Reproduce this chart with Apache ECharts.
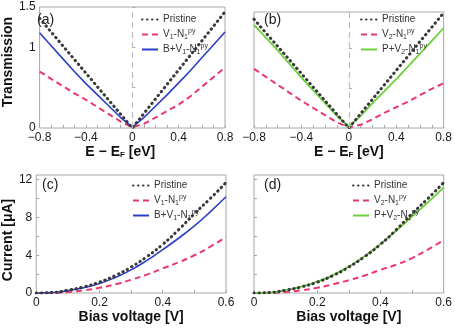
<!DOCTYPE html>
<html>
<head>
<meta charset="utf-8">
<script src="https://cdn.jsdelivr.net/npm/echarts@6/dist/echarts.min.js"></script>
<style>
  html, body { margin: 0; padding: 0; background: #fff; }
  #chart { width: 455px; height: 328px; }
</style>
</head>
<body>
<div id="chart"></div>
<script>
// (a),(b): transmission vs E - EF
var energy = [-0.8, -0.7, -0.6, -0.5, -0.4, -0.3, -0.2, -0.1, 0, 0.1, 0.2, 0.3, 0.4, 0.5, 0.6, 0.7, 0.8];
var tPristine = [1.36, 1.19, 1.02, 0.85, 0.68, 0.51, 0.34, 0.17, 0.0, 0.18, 0.36, 0.54, 0.72, 0.90, 1.08, 1.26, 1.44];
var tV1 = [0.70, 0.61, 0.52, 0.43, 0.35, 0.26, 0.17, 0.08, 0.01, 0.05, 0.13, 0.21, 0.29, 0.39, 0.51, 0.63, 0.75];
var tBV1 = [1.18, 1.02, 0.86, 0.70, 0.55, 0.41, 0.27, 0.13, 0.01, 0.13, 0.27, 0.41, 0.56, 0.71, 0.87, 1.03, 1.19];
var tV2 = [0.74, 0.64, 0.54, 0.44, 0.34, 0.25, 0.16, 0.07, 0.01, 0.04, 0.11, 0.19, 0.26, 0.33, 0.41, 0.49, 0.56];
var tPV2 = [1.29, 1.13, 0.97, 0.80, 0.63, 0.47, 0.31, 0.15, 0.02, 0.15, 0.31, 0.46, 0.61, 0.77, 0.93, 1.09, 1.25];

// (c),(d): current vs bias voltage
var bias = [0, 0.05, 0.1, 0.15, 0.2, 0.25, 0.3, 0.35, 0.4, 0.45, 0.5, 0.55, 0.6];
var iPristine = [0, 0.05, 0.3, 0.65, 1.15, 1.85, 2.75, 3.85, 5.15, 6.7, 8.4, 10.0, 11.7];
var iV1 = [0, 0.02, 0.1, 0.28, 0.55, 0.92, 1.4, 1.95, 2.6, 3.25, 4.0, 4.9, 5.95];
var iBV1 = [0, 0.04, 0.25, 0.55, 1.0, 1.65, 2.45, 3.45, 4.6, 5.8, 7.1, 8.6, 10.2];
var iV2 = [0, 0.02, 0.1, 0.28, 0.55, 0.92, 1.35, 1.85, 2.45, 3.0, 3.7, 4.6, 5.6];
var iPV2 = [0, 0.05, 0.3, 0.68, 1.2, 1.9, 2.8, 3.9, 5.2, 6.6, 8.1, 9.6, 11.2];

// tick labels / tick marks
var energyLabels = [-0.8, -0.4, 0, 0.4, 0.8];
var energyTicks = [-0.8, -0.7, -0.6, -0.5, -0.4, -0.3, -0.2, -0.1, 0, 0.1, 0.2, 0.3, 0.4, 0.5, 0.6, 0.7, 0.8];
var transLabels = [0, 1, 1.5];
var transTicks = [0, 0.5, 1, 1.5];
var biasLabels = [0, 0.2, 0.4, 0.6];
var biasTicks = [0, 0.1, 0.2, 0.3, 0.4, 0.5, 0.6];
var currentLabels = [0, 4, 8, 12];
var currentTicks = [0, 2, 4, 6, 8, 10, 12];

var FONT = 'Liberation Sans, Arial, sans-serif';
var FRAME = '#a8a8a8';

function pairs(xs, ys) {
  return xs.map(function (x, i) { return [x, ys[i]]; });
}

function fmtE(v) {
  if (Math.abs(v) < 1e-9) return '0';
  return (v < 0 ? '\u2212' : '') + Math.abs(v).toFixed(1);
}
function fmtBias(v) {
  if (Math.abs(v) < 1e-9) return '0';
  return v.toFixed(1);
}

function axis(gridIndex, min, max, labels, ticks, fmt, showLabels, extra) {
  var a = {
    type: 'value',
    gridIndex: gridIndex,
    min: min,
    max: max,
    splitLine: { show: false },
    axisLine: { show: false },
    axisTick: { show: true, inside: true, length: 3, customValues: ticks, lineStyle: { color: FRAME } },
    axisLabel: {
      show: showLabels, customValues: labels, formatter: fmt,
      fontFamily: FONT, fontSize: 12, color: '#1a1a1a', margin: 4
    }
  };
  for (var k in extra) a[k] = extra[k];
  return a;
}

var subRich = {
  sub: { fontSize: 7, fontFamily: FONT, color: '#333', verticalAlign: 'bottom', lineHeight: 8 },
  sup: { fontSize: 7, fontFamily: FONT, color: '#333', verticalAlign: 'top', lineHeight: 8 }
};

var legendNames = {
  'Pristine': 'Pristine',
  'V1': 'V{sub|1}-N{sub|1}{sup|py}',
  'B+V1': 'B+V{sub|1}-N{sub|1}{sup|py}',
  'V2': 'V{sub|2}-N{sub|1}{sup|py}',
  'P+V2': 'P+V{sub|2}-N{sub|1}{sup|py}'
};

function legend(left, top, names) {
  return {
    left: left, top: top, orient: 'vertical',
    data: names, itemWidth: 16, itemHeight: 10, itemGap: 2,
    selectedMode: false,
    itemStyle: { opacity: 0 },
    formatter: function (n) { return legendNames[n]; },
    textStyle: { fontFamily: FONT, fontSize: 10, color: '#333', lineHeight: 13, rich: subRich }
  };
}

var dotted = { color: '#3a3a3a', width: 3, type: [0.5, 4.5], cap: 'round' };
var dashed = { color: '#e8386d', width: 2, type: [6, 4] };
var blue = { color: '#2b3fc6', width: 1.6 };
var green = { color: '#6cd23a', width: 1.8 };

function line(name, xi, data, style, extra) {
  var s = {
    name: name, type: 'line', xAxisIndex: xi, yAxisIndex: xi,
    data: data, symbol: 'none', smooth: true,
    lineStyle: style, itemStyle: { color: style.color }
  };
  for (var k in extra) s[k] = extra[k];
  return s;
}

var zeroLine = {
  silent: true, symbol: 'none', label: { show: false },
  lineStyle: { color: '#bdbdbd', type: [6, 4], width: 1.2 },
  data: [{ xAxis: 0 }]
};

var nameBold = { fontFamily: FONT, fontWeight: 'bold', fontSize: 14, color: '#111', rich: {
  sub: { fontFamily: FONT, fontWeight: 'bold', fontSize: 8, color: '#111', verticalAlign: 'bottom', lineHeight: 10 }
} };

var chart = echarts.init(document.getElementById('chart'));
chart.setOption({
  animation: false,
  backgroundColor: '#fff',
  grid: [
    { left: 33, top: 7, width: 192, height: 121, show: true, borderColor: FRAME, borderWidth: 1 },
    { left: 254, top: 12, width: 191, height: 116, show: true, borderColor: FRAME, borderWidth: 1 },
    { left: 34, top: 175, width: 192, height: 118, show: true, borderColor: FRAME, borderWidth: 1 },
    { left: 254, top: 175, width: 191, height: 118, show: true, borderColor: FRAME, borderWidth: 1 }
  ],
  xAxis: [
    axis(0, -0.8, 0.8, energyLabels, energyTicks, fmtE, true,
      { name: 'E \u2212 E{sub|F} [eV]', nameLocation: 'middle', nameGap: 13, nameTextStyle: Object.assign({ padding: [0, 24, 0, 0] }, nameBold) }),
    axis(1, -0.8, 0.8, energyLabels, energyTicks, fmtE, true,
      { name: 'E \u2212 E{sub|F} [eV]', nameLocation: 'middle', nameGap: 13, nameTextStyle: nameBold }),
    axis(2, 0, 0.6, biasLabels, biasTicks, fmtBias, true,
      { name: 'Bias voltage [V]', nameLocation: 'middle', nameGap: 11, nameTextStyle: nameBold }),
    axis(3, 0, 0.6, biasLabels, biasTicks, fmtBias, true,
      { name: 'Bias voltage [V]', nameLocation: 'middle', nameGap: 11, nameTextStyle: nameBold })
  ],
  yAxis: [
    axis(0, 0, 1.5, transLabels, transTicks, function (v) { return String(v); }, true,
      { name: 'Transmission', nameLocation: 'middle', nameGap: 17, nameTextStyle: Object.assign({ padding: [0, 0, 0, 11] }, nameBold) }),
    axis(1, 0, 1.45, transLabels, transTicks, null, false, {}),
    axis(2, 0, 12.5, currentLabels, currentTicks, function (v) { return String(v); }, true,
      { name: 'Current [\u03bcA]', nameLocation: 'middle', nameGap: 17, nameTextStyle: Object.assign({ padding: [0, 12, 0, 0] }, nameBold) }),
    axis(3, 0, 12.5, currentLabels, currentTicks, null, false, {})
  ],
  legend: [
    legend(136, 8, ['Pristine', 'V1', 'B+V1']),
    legend(355, 8, ['Pristine', 'V2', 'P+V2']),
    legend(127, 174, ['Pristine', 'V1', 'B+V1']),
    legend(347, 174, ['Pristine', 'V2', 'P+V2'])
  ],
  graphic: [
    { type: 'text', left: 37, top: 13, style: { text: '(a)', fontFamily: FONT, fontSize: 14, fill: '#222' } },
    { type: 'text', left: 264, top: 13, style: { text: '(b)', fontFamily: FONT, fontSize: 14, fill: '#222' } },
    { type: 'text', left: 42, top: 178, style: { text: '(c)', fontFamily: FONT, fontSize: 14, fill: '#222' } },
    { type: 'text', left: 264, top: 178, style: { text: '(d)', fontFamily: FONT, fontSize: 14, fill: '#222' } }
  ],
  series: [
    line('V1', 0, pairs(energy, tV1), dashed, { smooth: false }),
    line('B+V1', 0, pairs(energy, tBV1), blue, { smooth: false }),
    line('Pristine', 0, pairs(energy, tPristine), dotted, { smooth: false, markLine: zeroLine, z: 3 }),
    line('V2', 1, pairs(energy, tV2), dashed, { smooth: false }),
    line('P+V2', 1, pairs(energy, tPV2), green, { smooth: false }),
    line('Pristine', 1, pairs(energy, tPristine), dotted, { smooth: false, markLine: zeroLine, z: 3 }),
    line('V1', 2, pairs(bias, iV1), dashed),
    line('B+V1', 2, pairs(bias, iBV1), blue),
    line('Pristine', 2, pairs(bias, iPristine), dotted, { z: 3 }),
    line('V2', 3, pairs(bias, iV2), dashed),
    line('P+V2', 3, pairs(bias, iPV2), green),
    line('Pristine', 3, pairs(bias, iPristine), dotted, { z: 3 })
  ]
});
</script>
</body>
</html>
